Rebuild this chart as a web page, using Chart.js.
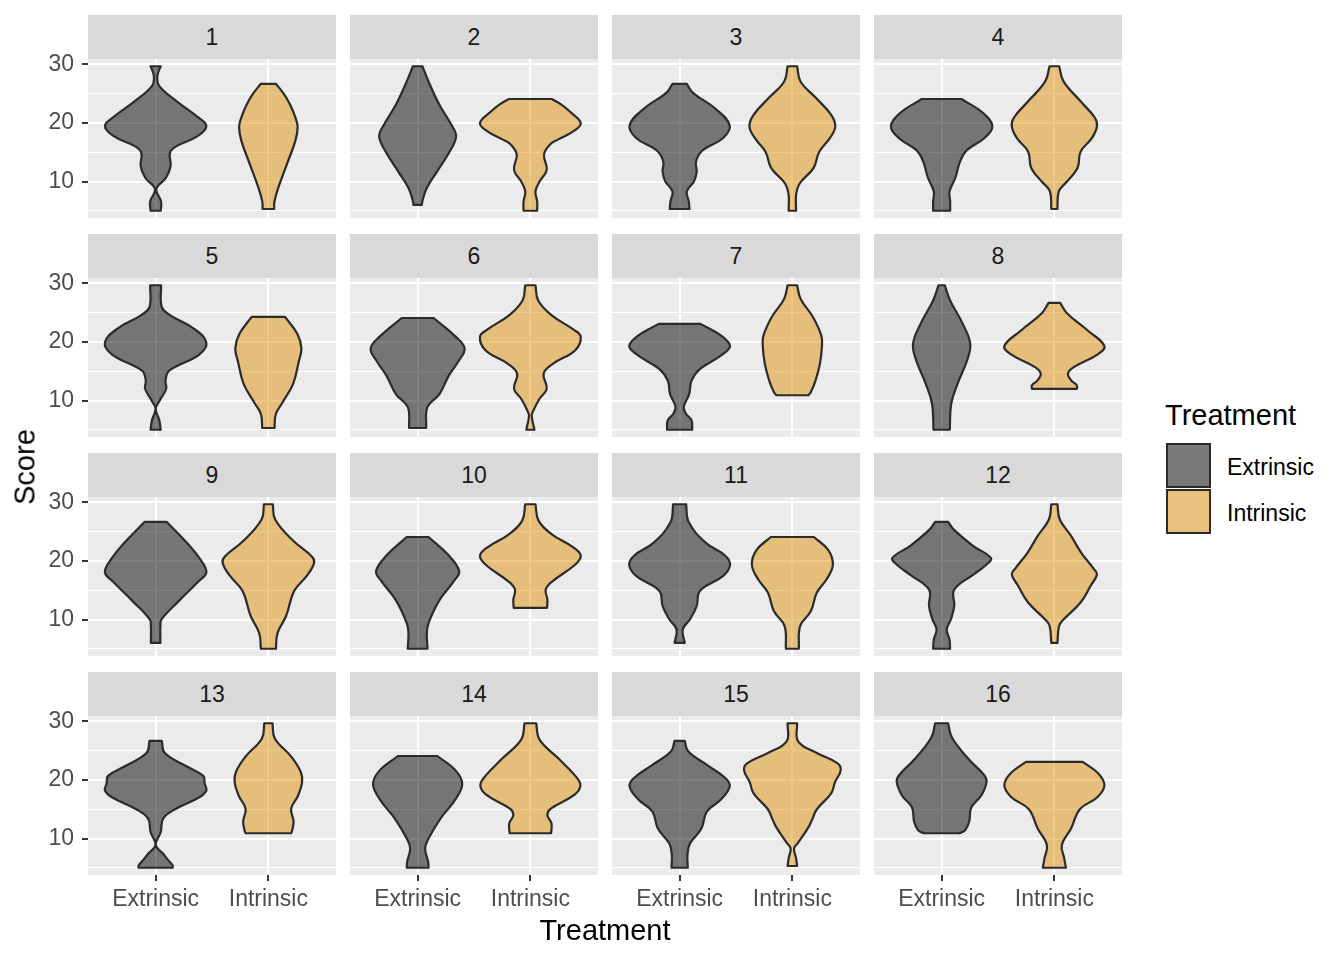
<!DOCTYPE html>
<html>
<head>
<meta charset="utf-8">
<script src="https://cdn.jsdelivr.net/npm/chart.js@4.4.1/dist/chart.umd.min.js"></script>
<style>
  body { margin: 0; background: #fff; font-family: "Liberation Sans", Arial, sans-serif; }
  #wrap { position: relative; width: 1344px; height: 960px; overflow: hidden; background: #fff; }
  #wrap canvas { position: absolute; }
  .strip { position: absolute; width: 248px; height: 44px; background: #D9D9D9; color: #1A1A1A;
           font-size: 23px; line-height: 44px; text-align: center; }
  .txt { position: absolute; white-space: nowrap; line-height: 1; }
  .key { position: absolute; width: 45px; height: 45px; box-sizing: border-box; border: 2px solid #2B2B2B; }
</style>
</head>
<body>
<div id="wrap"></div>
<script>
// facet labels, groups and axis breaks
const facets = ['1', '2', '3', '4', '5', '6', '7', '8', '9', '10', '11', '12', '13', '14', '15', '16'];
const treatments = ['Extrinsic', 'Intrinsic'];
const yBreaks = [5, 10, 15, 20, 25, 30];
const yLabelled = [10, 20, 30];
const scoreMin = 5.0, scoreMax = 29.7;

// violin profiles: [score, relative density], low -> high
const extrinsic = [
  [[5.0,18],[6.6,19],[8.7,5],[10.6,33],[12.6,47],[14.9,45],[16.0,63],[17.7,125],[19.5,152],[21.1,125],[23.7,65],[26.3,14],[28.0,8],[29.7,18]],
  [[6.0,15],[7.1,19],[8.9,30],[11.7,60],[14.9,95],[17.7,116],[19.7,102],[23.1,67],[27.1,35],[29.7,17]],
  [[5.3,32],[6.6,30],[8.3,24],[10.0,45],[11.7,53],[13.4,51],[15.3,70],[17.4,130],[19.6,150],[22.6,105],[25.1,43],[26.7,24]],
  [[5.0,28],[6.6,28],[8.3,26],[10.6,43],[13.4,57],[15.3,76],[17.4,128],[19.4,152],[21.7,125],[24.1,61]],
  [[5.0,18],[6.6,14],[8.6,3],[10.0,15],[12.0,34],[13.4,32],[15.1,43],[17.8,130],[19.9,152],[22.3,115],[24.6,45],[26.0,21],[29.7,19]],
  [[5.3,28],[8.9,32],[11.1,67],[14.3,95],[16.7,123],[18.9,141],[21.0,113],[24.1,50]],
  [[5.0,40],[6.6,38],[7.7,22],[8.9,15],[11.1,31],[13.4,38],[15.4,63],[17.7,125],[19.3,151],[21.1,125],[23.1,64]],
  [[5.0,27],[9.4,31],[12.9,50],[16.9,78],[19.7,87],[23.1,65],[27.1,28],[29.7,12]],
  [[6.0,17],[8.9,17],[10.0,20],[13.1,70],[16.4,127],[18.1,152],[20.6,130],[23.1,95],[26.7,35]],
  [[5.0,32],[7.7,30],[9.4,35],[13.4,68],[16.6,110],[18.3,125],[21.1,92],[24.1,35]],
  [[6.0,18],[8.3,12],[10.0,33],[12.3,53],[14.9,63],[17.4,130],[19.3,151],[20.9,137],[23.1,80],[26.6,30],[29.7,22]],
  [[5.0,28],[6.6,26],[8.3,18],[10.0,30],[12.3,40],[15.1,40],[17.7,97],[19.4,135],[20.5,148],[22.6,95],[25.4,38],[26.7,22]],
  [[5.0,53],[5.4,53],[6.3,40],[7.4,25],[8.9,3],[11.1,18],[13.4,25],[15.0,60],[17.0,130],[18.2,152],[19.4,147],[20.7,143],[22.3,95],[24.6,30],[26.7,21]],
  [[5.0,35],[6.0,34],[8.3,25],[10.0,35],[13.4,70],[16.6,113],[19.3,134],[21.6,115],[24.1,61]],
  [[5.0,27],[7.1,26],[9.1,33],[11.7,67],[14.6,83],[16.7,125],[18.9,150],[20.3,138],[22.5,85],[24.9,28],[26.7,18]],
  [[10.9,55],[11.4,72],[12.9,84],[15.3,90],[17.4,120],[19.7,135],[20.9,127],[23.7,80],[27.3,33],[29.7,22]]
];
const intrinsic = [
  [[5.3,20],[6.6,21],[8.9,32],[12.9,57],[16.9,82],[19.3,89],[21.0,82],[23.1,67],[25.0,48],[26.7,25]],
  [[5.0,23],[6.6,23],[8.3,18],[10.0,30],[12.0,51],[14.6,43],[16.3,60],[17.2,85],[18.6,130],[20.0,151],[22.0,118],[23.1,95],[24.1,66]],
  [[5.0,14],[7.7,14],[9.7,25],[12.3,65],[15.1,82],[17.4,113],[19.4,129],[21.4,117],[24.3,72],[27.1,27],[29.7,17]],
  [[5.3,12],[8.3,16],[10.0,40],[12.3,71],[15.1,80],[17.4,113],[19.4,128],[20.9,122],[23.7,80],[27.1,30],[29.7,17]],
  [[5.3,21],[7.7,25],[9.7,45],[12.9,76],[16.6,92],[18.9,100],[21.4,88],[24.3,52]],
  [[5.0,15],[7.4,7],[8.3,12],[10.3,30],[12.0,51],[14.6,42],[16.3,70],[18.6,135],[20.9,151],[22.1,130],[24.6,65],[27.1,26],[29.7,18]],
  [[10.9,50],[11.4,57],[13.4,71],[16.3,84],[19.4,90],[21.1,88],[24.3,63],[27.4,27],[29.7,17]],
  [[12.0,69],[12.6,69],[13.4,53],[14.6,43],[15.7,60],[17.8,128],[19.3,150],[22.0,100],[24.9,40],[26.7,20]],
  [[5.0,25],[7.7,30],[10.6,55],[14.9,79],[17.4,115],[19.6,137],[20.7,132],[23.4,77],[27.1,23],[29.7,16]],
  [[12.0,52],[13.4,53],[15.1,48],[16.4,65],[19.4,135],[20.9,151],[22.3,130],[24.6,65],[26.9,27],[29.7,18]],
  [[5.0,22],[8.9,26],[11.4,57],[14.6,75],[17.0,105],[19.4,122],[21.9,108],[24.1,66]],
  [[6.0,12],[8.9,17],[10.0,30],[12.9,80],[15.8,110],[17.7,128],[18.7,118],[21.4,82],[24.3,52],[27.1,19],[29.7,12]],
  [[10.9,70],[11.4,73],[12.9,77],[15.1,70],[17.3,90],[19.6,102],[21.4,98],[24.0,70],[27.1,22],[29.7,15]],
  [[10.9,64],[12.6,65],[14.0,53],[15.1,63],[17.5,133],[19.1,150],[20.7,135],[23.7,85],[26.9,30],[29.7,20]],
  [[5.3,17],[6.6,14],[8.3,8],[9.3,20],[11.9,50],[13.1,60],[15.0,75],[17.7,117],[19.6,128],[21.7,145],[22.9,135],[24.6,75],[26.6,20],[29.7,17]],
  [[5.0,37],[6.6,32],[8.9,25],[11.7,52],[15.0,78],[17.1,130],[19.1,150],[21.1,132],[23.1,86]]
];

const FONT = '"Liberation Sans", Arial, sans-serif';
Chart.defaults.font.family = FONT;

const fills = ['rgba(0,0,0,0.5)', 'rgba(222,145,10,0.5)'];
const LEFT = 88, TOP = 15, STRIP_H = 44, PANEL_W = 248, PANEL_H = 159, STEP_X = 262, STEP_Y = 219;
const PAD = 26, AXIS_W = 88, AXIS_H = 42;
const pad = (scoreMax - scoreMin) * 0.05;

// turn a density profile into a closed outline around category position pos
function outline(profile, pos) {
  const k = 0.45 / 149;
  const half = profile.map(([s, d]) => [s, Math.max(d - 3, 0.3) * k]);
  const right = half.map(([s, w]) => ({ x: pos + w, y: s }));
  const left = half.slice().reverse().map(([s, w]) => ({ x: pos - w, y: s }));
  const n = right.length - 1;
  // corners doubled so the flat ends stay straight
  return [...right, right[n], left[0], ...left, left[n], right[0]];
}

const panelBg = {
  id: 'panelBg',
  beforeDraw(chart) {
    const { ctx, chartArea: a } = chart;
    ctx.save();
    ctx.fillStyle = '#EBEBEB';
    ctx.fillRect(a.left, a.top, a.width, a.height);
    ctx.restore();
  }
};

const wrap = document.getElementById('wrap');

facets.forEach((label, i) => {
  const r = Math.floor(i / 4), c = i % 4;
  const firstCol = c === 0, bottomRow = r === 3;
  const px = LEFT + c * STEP_X, py = TOP + STRIP_H + r * STEP_Y;

  const strip = document.createElement('div');
  strip.className = 'strip';
  strip.style.left = px + 'px';
  strip.style.top = (TOP + r * STEP_Y) + 'px';
  strip.textContent = label;
  wrap.appendChild(strip);

  const cv = document.createElement('canvas');
  const w = PANEL_W + (firstCol ? AXIS_W : 0);
  const h = PAD + PANEL_H + (bottomRow ? AXIS_H : PAD);
  cv.width = w; cv.height = h;
  cv.style.left = (px - (firstCol ? AXIS_W : 0)) + 'px';
  cv.style.top = (py - PAD) + 'px';
  wrap.appendChild(cv);

  const ds = [extrinsic[i], intrinsic[i]].map((prof, j) => ({
    data: outline(prof, j + 1),
    backgroundColor: fills[j],
    borderColor: '#2B2B2B',
    borderWidth: 2.2,
    borderJoinStyle: 'round',
    borderCapStyle: 'round',
    fill: 'shape',
    tension: 0.4,
    pointRadius: 0,
    pointHoverRadius: 0
  }));

  new Chart(cv, {
    type: 'line',
    data: { datasets: ds },
    plugins: [panelBg],
    options: {
      responsive: false,
      animation: false,
      events: [],
      layout: { padding: { top: PAD, left: 0, right: 0, bottom: bottomRow ? 0 : PAD } },
      plugins: { legend: { display: false }, tooltip: { enabled: false } },
      scales: {
        x: {
          type: 'linear', min: 0.4, max: 2.6,
          border: { display: false },
          afterBuildTicks: s => { s.ticks = treatments.map((t, j) => ({ value: j + 1 })); },
          afterFit: s => { s.height = bottomRow ? AXIS_H : 0; },
          grid: { color: '#FFFFFF', lineWidth: 2, drawTicks: bottomRow, tickLength: 6, tickColor: '#333333', tickWidth: 2 },
          ticks: {
            display: bottomRow, autoSkip: false, maxRotation: 0, padding: 5,
            color: '#4D4D4D', font: { size: 23 },
            callback: v => treatments[v - 1]
          }
        },
        y: {
          type: 'linear', min: scoreMin - pad, max: scoreMax + pad,
          border: { display: false },
          afterBuildTicks: s => { s.ticks = yBreaks.map(v => ({ value: v })); },
          afterFit: s => { s.width = firstCol ? AXIS_W : 0; },
          grid: {
            color: '#FFFFFF',
            lineWidth: ctx => yLabelled.includes(ctx.tick && ctx.tick.value) ? 2 : 1,
            drawTicks: firstCol, tickLength: 6, tickWidth: 2,
            tickColor: ctx => yLabelled.includes(ctx.tick && ctx.tick.value) ? '#333333' : 'rgba(0,0,0,0)'
          },
          ticks: {
            display: firstCol, autoSkip: false, padding: 8,
            color: '#4D4D4D', font: { size: 23 },
            callback: v => yLabelled.includes(v) ? String(v) : ''
          }
        }
      }
    }
  });
});

// axis titles and legend
function addText(txt, css) {
  const d = document.createElement('div');
  d.className = 'txt';
  d.textContent = txt;
  Object.assign(d.style, css);
  wrap.appendChild(d);
  return d;
}
addText('Score', { left: '25px', top: '467px', fontSize: '29px', color: '#000',
  transform: 'translate(-50%, -50%) rotate(-90deg)' });
addText('Treatment', { left: '605px', top: '930px', fontSize: '29px', color: '#000',
  transform: 'translate(-50%, -50%)' });
addText('Treatment', { left: '1165px', top: '415px', fontSize: '29px', color: '#000',
  transform: 'translateY(-50%)' });
treatments.forEach((t, j) => {
  const k = document.createElement('div');
  k.className = 'key';
  k.style.left = '1166px';
  k.style.top = (443 + j * 46) + 'px';
  k.style.background = 'linear-gradient(' + fills[j] + ',' + fills[j] + '), #F2F2F2';
  wrap.appendChild(k);
  addText(t, { left: '1227px', top: (467 + j * 46) + 'px', fontSize: '23px', color: '#000',
    transform: 'translateY(-50%)' });
});
</script>
</body>
</html>
